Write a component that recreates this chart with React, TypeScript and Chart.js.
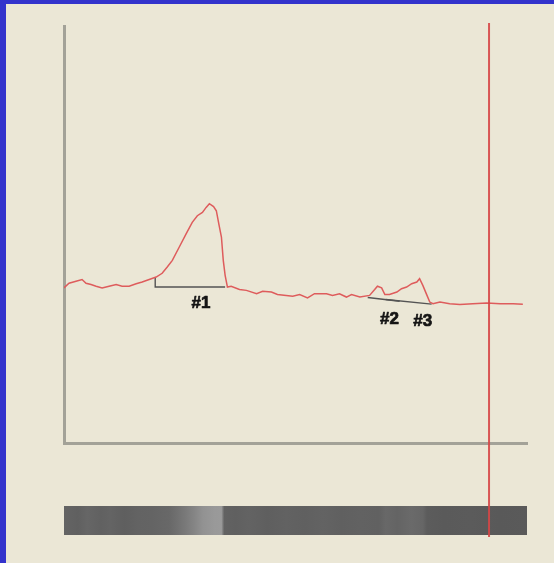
import { useEffect, useRef } from "react";
import { Chart, registerables } from "chart.js";

Chart.register(...registerables);

// Detector trace (retention position 0–100, signal 0–100)
const traceX = [
  0, 1.08, 2.6, 3.9, 4.76, 5.84, 6.93, 8.23, 9.74, 11.26, 12.55, 14.07, 15.58, 16.88,
  18.4, 19.9, 21.2, 22.3, 23.4, 24.9, 26.4, 27.7, 28.8, 29.9, 30.7, 31.4, 32.3, 32.9,
  33.5, 34.0, 34.4, 34.8, 35.3, 36.1, 37.9, 39.4, 41.6, 42.9, 44.8, 46.1, 49.4, 50.9,
  52.6, 54.1, 56.7, 58.0, 59.5, 61.0, 62.1, 63.9, 66.0, 67.1, 67.7, 68.6, 69.3, 70.3,
  71.9, 72.9, 74.0, 75.1, 76.2, 76.8, 77.5, 78.4, 79.0, 79.7, 81.2, 83.3, 85.5, 88.3,
  91.3, 94.2, 97.0, 99.1,
];
const traceY = [
  37.2, 38.3, 38.8, 39.2, 38.3, 38.0, 37.6, 37.2, 37.6, 38.0, 37.6, 37.6, 38.2, 38.6,
  39.2, 39.8, 40.7, 42.2, 43.8, 47.0, 50.2, 52.9, 54.5, 55.3, 56.5, 57.4, 56.7, 55.7,
  52.2, 49.4, 43.8, 40.2, 37.4, 37.6, 36.8, 36.6, 35.8, 36.4, 36.2, 35.6, 35.2, 35.6,
  34.8, 35.8, 35.8, 35.4, 35.8, 35.0, 35.6, 35.0, 35.4, 36.8, 37.6, 37.2, 35.6, 35.6,
  36.2, 37.0, 37.4, 38.2, 38.6, 39.4, 37.8, 35.4, 33.8, 33.4, 33.8, 33.4, 33.2, 33.4,
  33.6, 33.4, 33.4, 33.3,
];

// Integrated peaks
const peakLabels = ["#1", "#2", "#3"];
const peakTickY = [39.8, 34.9, 34.4];
const peakStartX = [19.7, 65.6, 69.5];
const peakStartY = [37.4, 34.9, 34.4];
const peakEndX = [34.8, 72.5, 79.4];
const peakEndY = [37.4, 34.0, 33.3];
const peakLabelX = [29.6, 70.3, 77.5];
const peakLabelY = [33.4, 29.7, 29.2];

// Cursor position
const markerX = 91.8;

// Density strip (position, gray level)
const stripX = [
  0, 3, 5, 8, 10, 13, 16, 19, 22.7, 24, 26, 28, 30, 32.5, 34.0, 34.6, 37, 40, 44, 48,
  52, 56, 60, 64, 68, 69.5, 72, 75, 77.5, 78.4, 82, 88, 94, 100,
];
const stripShade = [
  100, 96, 102, 97, 100, 95, 99, 100, 104, 110, 120, 132, 146, 153, 154, 98, 96, 99, 95,
  98, 96, 99, 96, 98, 97, 104, 100, 106, 102, 92, 90, 91, 89, 90,
];

const overlayPlugin = {
  id: "overlay",
  afterDatasetsDraw(chart: any) {
    const { ctx, scales } = chart;
    const x = scales.x;
    const y = scales.y;
    ctx.save();
    ctx.font = "bold 17px 'Liberation Sans Narrow', 'Liberation Sans', Arial, sans-serif";
    ctx.fillStyle = "#151515";
    ctx.strokeStyle = "#151515";
    ctx.lineWidth = 0.7;
    ctx.lineJoin = "round";
    ctx.textAlign = "center";
    ctx.textBaseline = "middle";
    peakLabels.forEach((t, i) => {
      const px = x.getPixelForValue(peakLabelX[i]);
      const py = y.getPixelForValue(peakLabelY[i]);
      ctx.fillText(t, px, py);
      ctx.strokeText(t, px, py);
    });
    ctx.restore();
  },
  afterDraw(chart: any) {
    const { ctx, chartArea, scales } = chart;
    const x = scales.x;
    ctx.save();
    const left = x.getPixelForValue(stripX[0]);
    const right = x.getPixelForValue(stripX[stripX.length - 1]);
    const grad = ctx.createLinearGradient(left, 0, right, 0);
    stripX.forEach((v, i) => {
      const t = Math.min(1, Math.max(0, (x.getPixelForValue(v) - left) / (right - left)));
      const g = stripShade[i];
      grad.addColorStop(t, `rgb(${g},${g},${g})`);
    });
    ctx.fillStyle = grad;
    ctx.fillRect(left, chartArea.bottom + 63, right - left, 29);

    const mx = x.getPixelForValue(markerX);
    ctx.strokeStyle = "rgba(214,70,70,0.9)";
    ctx.lineWidth = 2;
    ctx.beginPath();
    ctx.moveTo(mx, chartArea.top - 3);
    ctx.lineTo(mx, chartArea.bottom + 94);
    ctx.stroke();
    ctx.restore();
  },
};

export default function App() {
  const ref = useRef<HTMLCanvasElement | null>(null);

  useEffect(() => {
    if (!ref.current) return;
    const baselineSets = peakLabels.map((lbl, i) => ({
      label: "baseline " + lbl,
      data: [
        { x: peakStartX[i], y: peakTickY[i] },
        { x: peakStartX[i], y: peakStartY[i] },
        { x: peakEndX[i], y: peakEndY[i] },
      ],
      borderColor: "#545454",
      borderWidth: 1.4,
      pointRadius: 0,
      tension: 0,
      order: 1,
    }));
    const chart = new Chart(ref.current, {
      type: "line",
      data: {
        datasets: [
          {
            label: "signal",
            data: traceX.map((v, i) => ({ x: v, y: traceY[i] })),
            borderColor: "rgb(222,92,92)",
            borderWidth: 1.5,
            pointRadius: 0,
            tension: 0,
            order: 0,
          },
          ...baselineSets,
        ],
      },
      options: {
        responsive: false,
        animation: false,
        events: [],
        layout: { padding: { left: 64, top: 26, right: 27, bottom: 120 } },
        plugins: { legend: { display: false }, tooltip: { enabled: false } },
        scales: {
          x: {
            type: "linear",
            min: 0,
            max: 100,
            ticks: { display: false },
            grid: { display: false, drawTicks: false },
            border: { display: true, color: "#a3a298", width: 3 },
          },
          y: {
            type: "linear",
            min: 0,
            max: 100,
            ticks: { display: false },
            grid: { display: false, drawTicks: false },
            border: { display: true, color: "#a3a298", width: 3 },
          },
        },
      },
      plugins: [overlayPlugin],
    });
    return () => chart.destroy();
  }, []);

  return (
    <div
      style={{
        position: "fixed",
        left: 0,
        top: 0,
        width: 554,
        height: 563,
        background: "#ebe7d6",
        overflow: "hidden",
      }}
    >
      <div style={{ position: "absolute", left: 0, top: 0, width: 554, height: 4, background: "#3333cc" }} />
      <div style={{ position: "absolute", left: 0, top: 0, width: 6, height: 563, background: "#3333cc" }} />
      <canvas
        ref={ref}
        width={554}
        height={563}
        style={{ position: "absolute", left: 0, top: 0, width: 554, height: 563 }}
      />
    </div>
  );
}
